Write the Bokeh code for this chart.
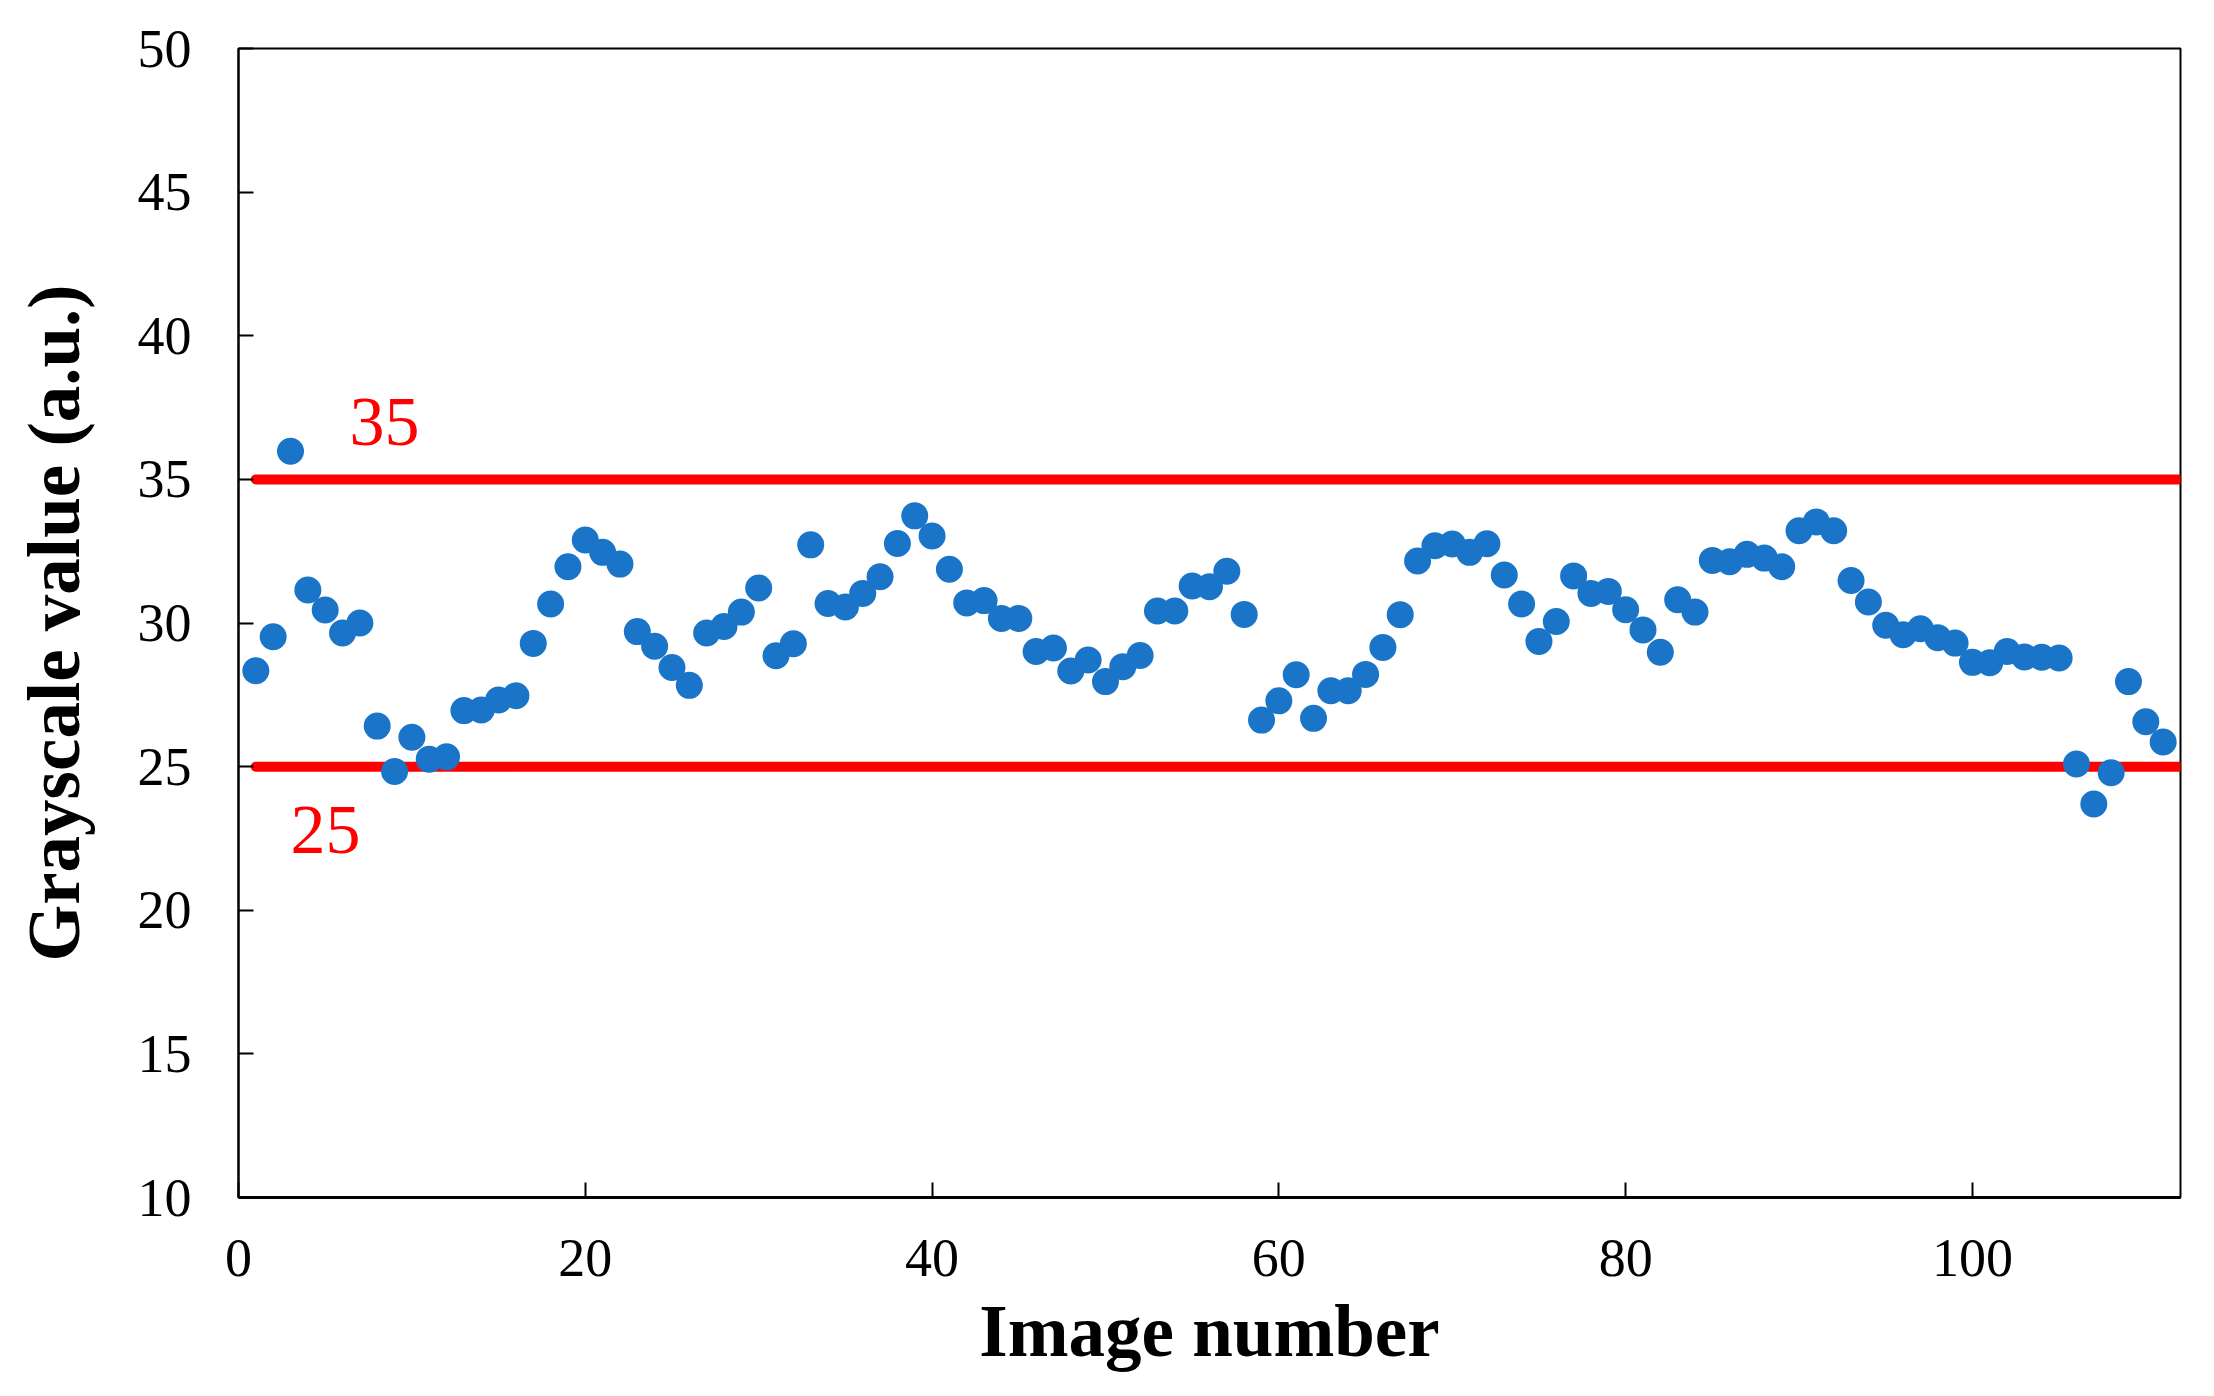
from bokeh.plotting import figure
from bokeh.models import FixedTicker, Label
from bokeh.embed import file_html
from bokeh.resources import INLINE

# ---- data ----
image_number = list(range(1, 112))
grayscale = [28.34, 29.52, 35.98, 31.15, 30.45, 29.65, 30.0, 26.41, 24.83, 26.02,
             25.26, 25.34, 26.95, 26.97, 27.32, 27.47, 29.29, 30.66, 31.96, 32.89,
             32.46, 32.05, 29.70, 29.19, 28.45, 27.83, 29.65, 29.88, 30.38, 31.22,
             28.86, 29.28, 32.72, 30.68, 30.56, 31.03, 31.61, 32.77, 33.73, 33.03,
             31.87, 30.70, 30.78, 30.16, 30.16, 29.01, 29.13, 28.33, 28.71, 27.96,
             28.48, 28.87, 30.42, 30.42, 31.29, 31.26, 31.80, 30.30, 26.62, 27.29,
             28.20, 26.68, 27.64, 27.64, 28.21, 29.15, 30.29, 32.16, 32.69, 32.75,
             32.46, 32.76, 31.67, 30.66, 29.36, 30.05, 31.64, 31.03, 31.10, 30.46,
             29.76, 28.98, 30.81, 30.38, 32.18, 32.13, 32.39, 32.26, 31.96, 33.21,
             33.52, 33.21, 31.48, 30.73, 29.92, 29.59, 29.80, 29.49, 29.30, 28.63,
             28.62, 29.01, 28.82, 28.81, 28.78, 25.09, 23.70, 24.79, 27.96, 26.56, 25.86]
limits = [35, 25]
limit_labels = ["35", "25"]
x_ticks = [0, 20, 40, 60, 80, 100]
y_ticks = [10, 15, 20, 25, 30, 35, 40, 45, 50]
x_max = 112

SERIF = "Liberation Serif"

p = figure(frame_width=1942, frame_height=1149,
           x_range=(0, x_max), y_range=(10, 50),
           output_backend="svg", toolbar_location=None,
           min_border_left=238, min_border_top=48, min_border_right=24,
           min_border_bottom=190)
p.background_fill_color = "white"
p.border_fill_color = "white"
p.outline_line_color = "black"
p.outline_line_width = 2
p.xgrid.visible = False
p.ygrid.visible = False

# threshold lines
for lim in limits:
    p.line([image_number[0], x_max], [lim, lim], line_color="#ff0000",
           line_width=10, line_cap="round")

# points
p.scatter(image_number, grayscale, size=27, marker="circle",
          fill_color="#1a75c9", line_color=None)

# limit labels
p.add_layout(Label(x=6.4, y=37.0, text=limit_labels[0], text_color="#ff0000",
                   text_font=SERIF, text_font_size="70px",
                   text_align="left", text_baseline="alphabetic"))
p.add_layout(Label(x=3.0, y=22.8, text=limit_labels[1], text_color="#ff0000",
                   text_font=SERIF, text_font_size="70px",
                   text_align="left", text_baseline="alphabetic"))

# axes
for ax in (p.xaxis[0], p.yaxis[0]):
    ax.major_tick_in = 15
    ax.major_tick_out = 0
    ax.minor_tick_in = 0
    ax.minor_tick_out = 0
    ax.axis_line_color = "black"
    ax.major_tick_line_color = "black"
    ax.major_tick_line_width = 2
    ax.major_label_text_font = SERIF
    ax.major_label_text_font_size = "54px"
    ax.major_label_text_color = "black"
    ax.axis_label_text_font = SERIF
    ax.axis_label_text_font_size = "73px"
    ax.axis_label_text_font_style = "bold"
    ax.axis_label_text_color = "black"

p.xaxis[0].ticker = FixedTicker(ticks=x_ticks)
p.yaxis[0].ticker = FixedTicker(ticks=y_ticks)
p.xaxis[0].axis_line_width = 3
p.yaxis[0].axis_line_width = 2
p.xaxis[0].major_label_standoff = 42
p.yaxis[0].major_label_standoff = 47
p.xaxis[0].axis_label = "Image number"
p.xaxis[0].axis_label_standoff = 12
p.yaxis[0].axis_label = "Grayscale value (a.u.)"
p.yaxis[0].axis_label_standoff = 40

open("out.html", "w").write(file_html(p, INLINE))
